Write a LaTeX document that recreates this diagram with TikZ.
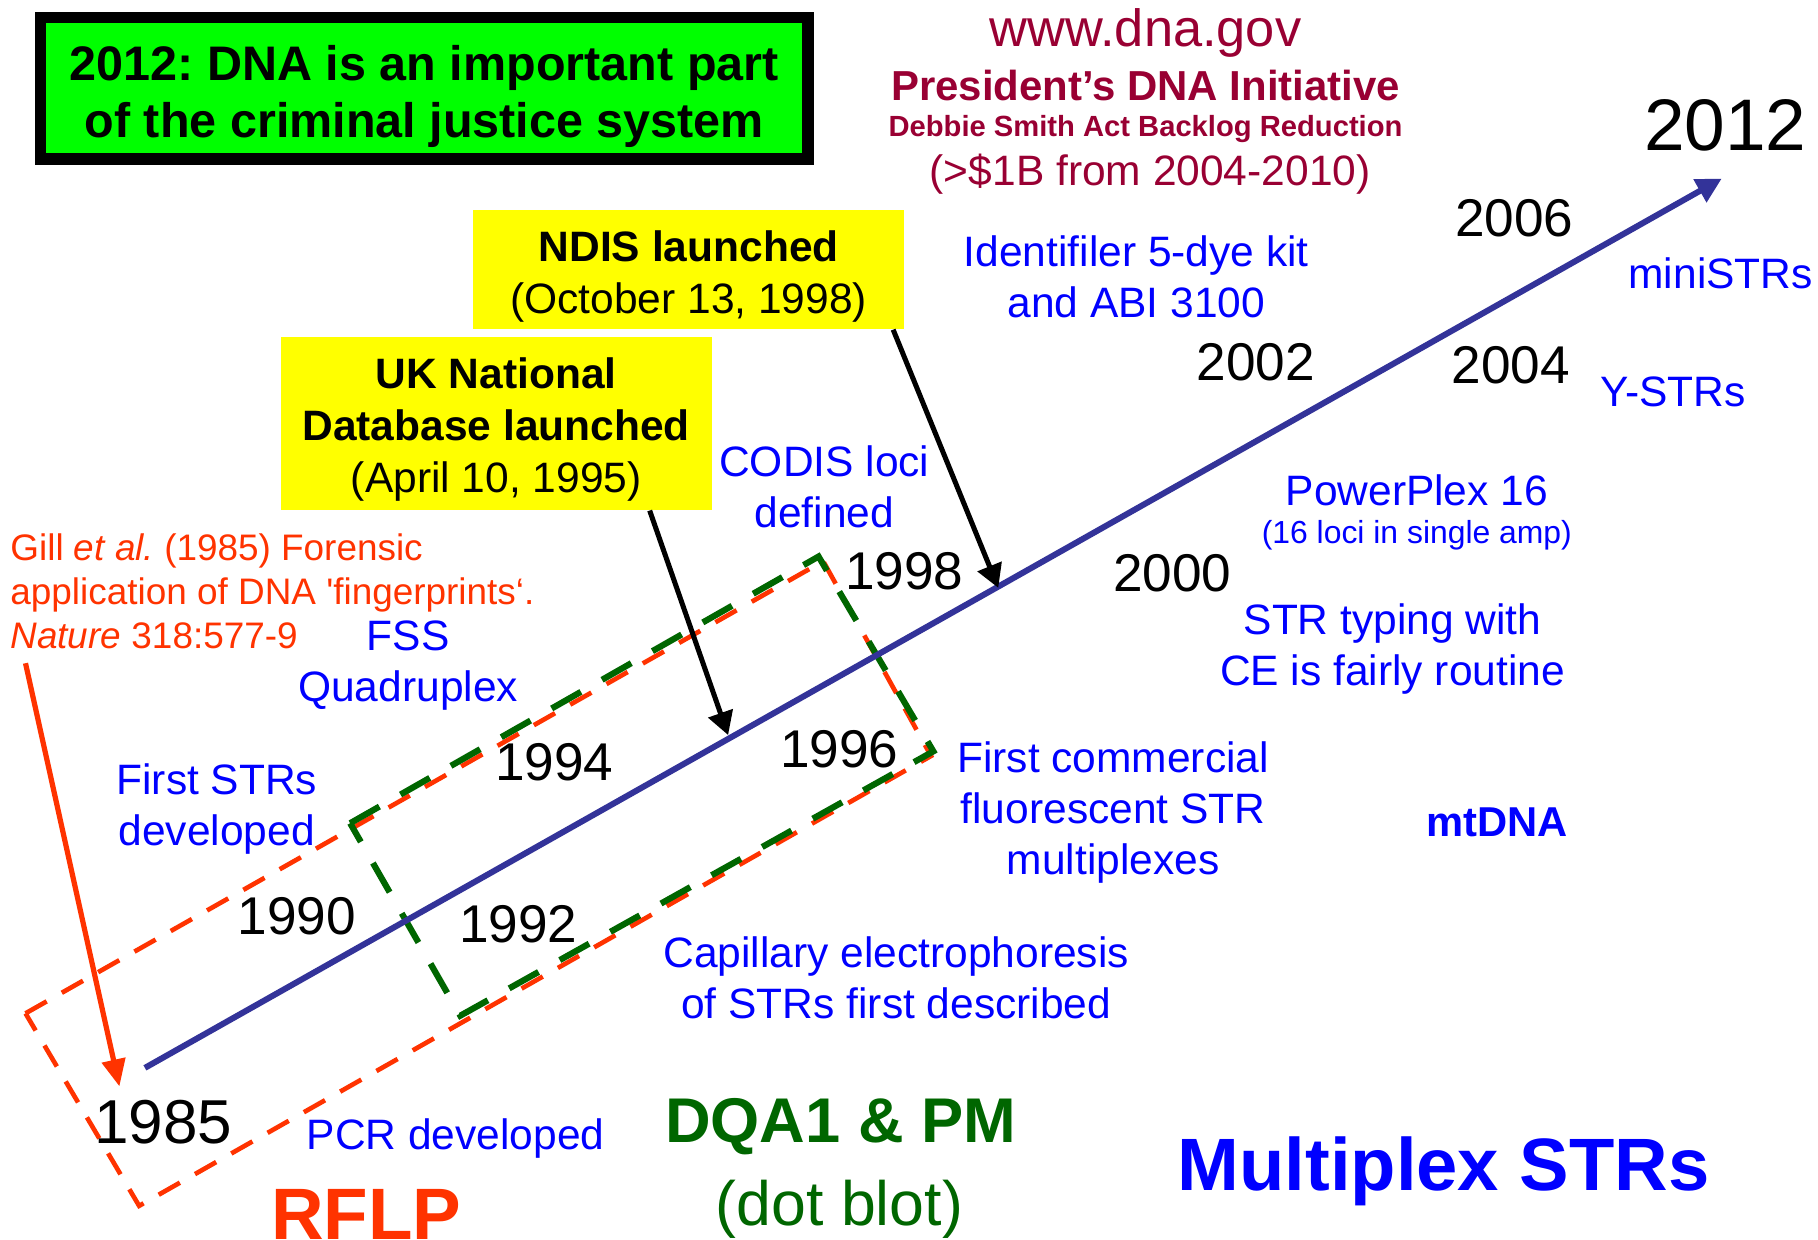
\documentclass[tikz,border=0pt]{standalone}
\usepackage{fontspec}
\setmainfont{Liberation Sans}[Ligatures=TeXOff]
\usetikzlibrary{arrows.meta,calc}
\definecolor{tlblue}{RGB}{51,51,153}
\definecolor{txtblue}{RGB}{0,0,255}
\definecolor{maroon}{RGB}{153,0,51}
\definecolor{dkgreen}{RGB}{0,102,0}
\definecolor{redor}{RGB}{255,51,0}
\definecolor{brightgreen}{RGB}{0,255,0}
\definecolor{yel}{RGB}{255,255,0}
\newcommand\fs[2]{\fontsize{#1}{#2}\selectfont}
\frenchspacing
\begin{document}
\begin{tikzpicture}[x=0.6pt,y=-0.6pt,
  txt/.style={inner sep=0pt, outer sep=0pt},
  yr/.style={txt, font=\fs{27.5}{33}},
  bl/.style={txt, text=txtblue, align=center, font=\fs{22}{26.5}},
  mr/.style={txt, text=maroon},
  ybox/.style={fill=yel, inner sep=0pt, minimum width=223.2pt},
  ytxt/.style={txt, align=center, font=\fs{22}{27}},
  blackarr/.style={line width=2.6pt, -{Triangle[length=12pt,width=13pt]}},
  gillarr/.style={redor, line width=2.7pt, -{Triangle[length=14pt,width=12pt]}},
  tline/.style={tlblue, line width=3.1pt, -{Triangle[length=13pt,width=13pt]}},
  orbox/.style={redor, line width=2.4pt, dash pattern=on 12.6pt off 9pt},
  grbox/.style={dkgreen, line width=3.2pt, dash pattern=on 17.4pt off 12.6pt},
]
\fill[white] (0,0) rectangle (1568,1069);
\path[use as bounding box] (0,0) rectangle (1568,1069);

% title box
\node[fill=brightgreen, draw=black, line width=6pt, minimum width=397.2pt, minimum height=73.2pt, inner sep=0pt] (gbox) at (366,76) {};
\node[txt, font=\bfseries\fs{25.1}{29.4}, align=center] (gtext) at (366,83.5) {2012: DNA is an important part\\of the criminal justice system};

% maroon text
\node[mr, font=\fs{27.1}{32}] (www) at (988,28) {www.dna.gov};
\node[mr, font=\bfseries\fs{21.7}{26}] (pdi) at (988,74) {President’s DNA Initiative};
\node[mr, font=\bfseries\fs{15.1}{18}] (debbie) at (988,111) {Debbie Smith Act Backlog Reduction};
\node[mr, font=\fs{22}{26}] (billion) at (992,150) {(>\$1B from 2004-2010)};

% dashed boxes
\draw[orbox] (22,874) -- (710,484) -- (803,652) -- (120,1040) -- cycle;
\draw[grbox] (302,710) -- (706,480) -- (805,648) -- (397,876) -- cycle;

% timeline
\coordinate (t0) at (125,921);
\coordinate (t1) at (1485,154);
\draw[tline] (t0) -- (t1);

% yellow boxes
\node[ybox, minimum height=61.8pt] (ndis) at (594,232.5) {};
\node[ytxt] (ndistxt) at (594,238.5) {\textbf{NDIS launched}\\(October 13, 1998)};
\node[ybox, minimum height=89.4pt] (uk) at (428,365.5) {};
\node[ytxt] (uktxt) at (428,370.5) {\textbf{UK National}\\\textbf{Database launched}\\(April 10, 1995)};

% arrows onto the timeline
\coordinate (ndishit) at (861,507);
\coordinate (ukhit) at (628,634);
\draw[blackarr] ($(ndis.south east)+(-10,0)$) -- (ndishit);
\draw[blackarr] ($(uk.south east)+(-54,0)$) -- (ukhit);

% Gill reference
\node[txt, text=redor, align=left, anchor=west, font=\fs{19.1}{23}] (gill) at (9,510) {Gill \textit{et al.} (1985) Forensic\\application of DNA 'fingerprints‘.\\\textit{Nature} 318:577-9};
\coordinate (gillhit) at (103,937);
\draw[gillarr] ($(gill.south west)+(13,12)$) -- (gillhit);

% years
\node[txt, font=\fs{37.8}{44}] (y2012) at (1488,108) {2012};
\node[yr] (y2006) at (1306,188) {2006};
\node[yr] (y2002) at (1083,312) {2002};
\node[yr] (y2004) at (1303,315) {2004};
\node[yr] (y2000) at (1011,494) {2000};
\node[yr] (y1998) at (780,493) {1998};
\node[yr] (y1996) at (724,646) {1996};
\node[yr] (y1994) at (478,657) {1994};
\node[yr] (y1992) at (447,797) {1992};
\node[yr] (y1990) at (256,790) {1990};
\node[txt, font=\fs{32.1}{38}] (y1985) at (141,968) {1985};

% blue annotations
\node[bl] (ident) at (980,239) {Identifiler 5-dye kit\\and ABI 3100};
\node[bl] (mini) at (1484,236) {miniSTRs};
\node[bl] (ystr) at (1443,338) {Y-STRs};
\node[bl] (pp) at (1222,423) {PowerPlex 16};
\node[bl, font=\fs{16.5}{20}] (ppsub) at (1222,462) {(16 loci in single amp)};
\node[bl] (strce) at (1201,560) {STR typing with\\CE is fairly routine};
\node[bl] (codis) at (711,420) {CODIS loci\\defined};
\node[bl] (fss) at (352,574) {FSS\\Quadruplex};
\node[bl] (fstr) at (187,698) {First STRs\\developed};
\node[bl] (fcomm) at (960,701) {First commercial\\fluorescent STR\\multiplexes};
\node[bl, font=\bfseries\fs{21.6}{26}] (mt) at (1291,709) {mtDNA};
\node[bl] (cap) at (773,843) {Capillary electrophoresis\\of STRs first described};
\node[bl] (pcr) at (393,982) {PCR developed};
\node[bl, font=\bfseries\fs{38.4}{46}] (mstr) at (1245,1010) {Multiplex STRs};

% green / red headings
\node[txt, text=dkgreen, font=\bfseries\fs{32.7}{39}] (dqa) at (725,972) {DQA1 \& PM};
\node[txt, text=dkgreen, font=\fs{32.4}{39}] (dot) at (724,1043) {(dot blot)};
\node[txt, text=redor, font=\bfseries\fs{37.7}{45}] (rflp) at (316,1047) {RFLP};
\end{tikzpicture}
\end{document}
